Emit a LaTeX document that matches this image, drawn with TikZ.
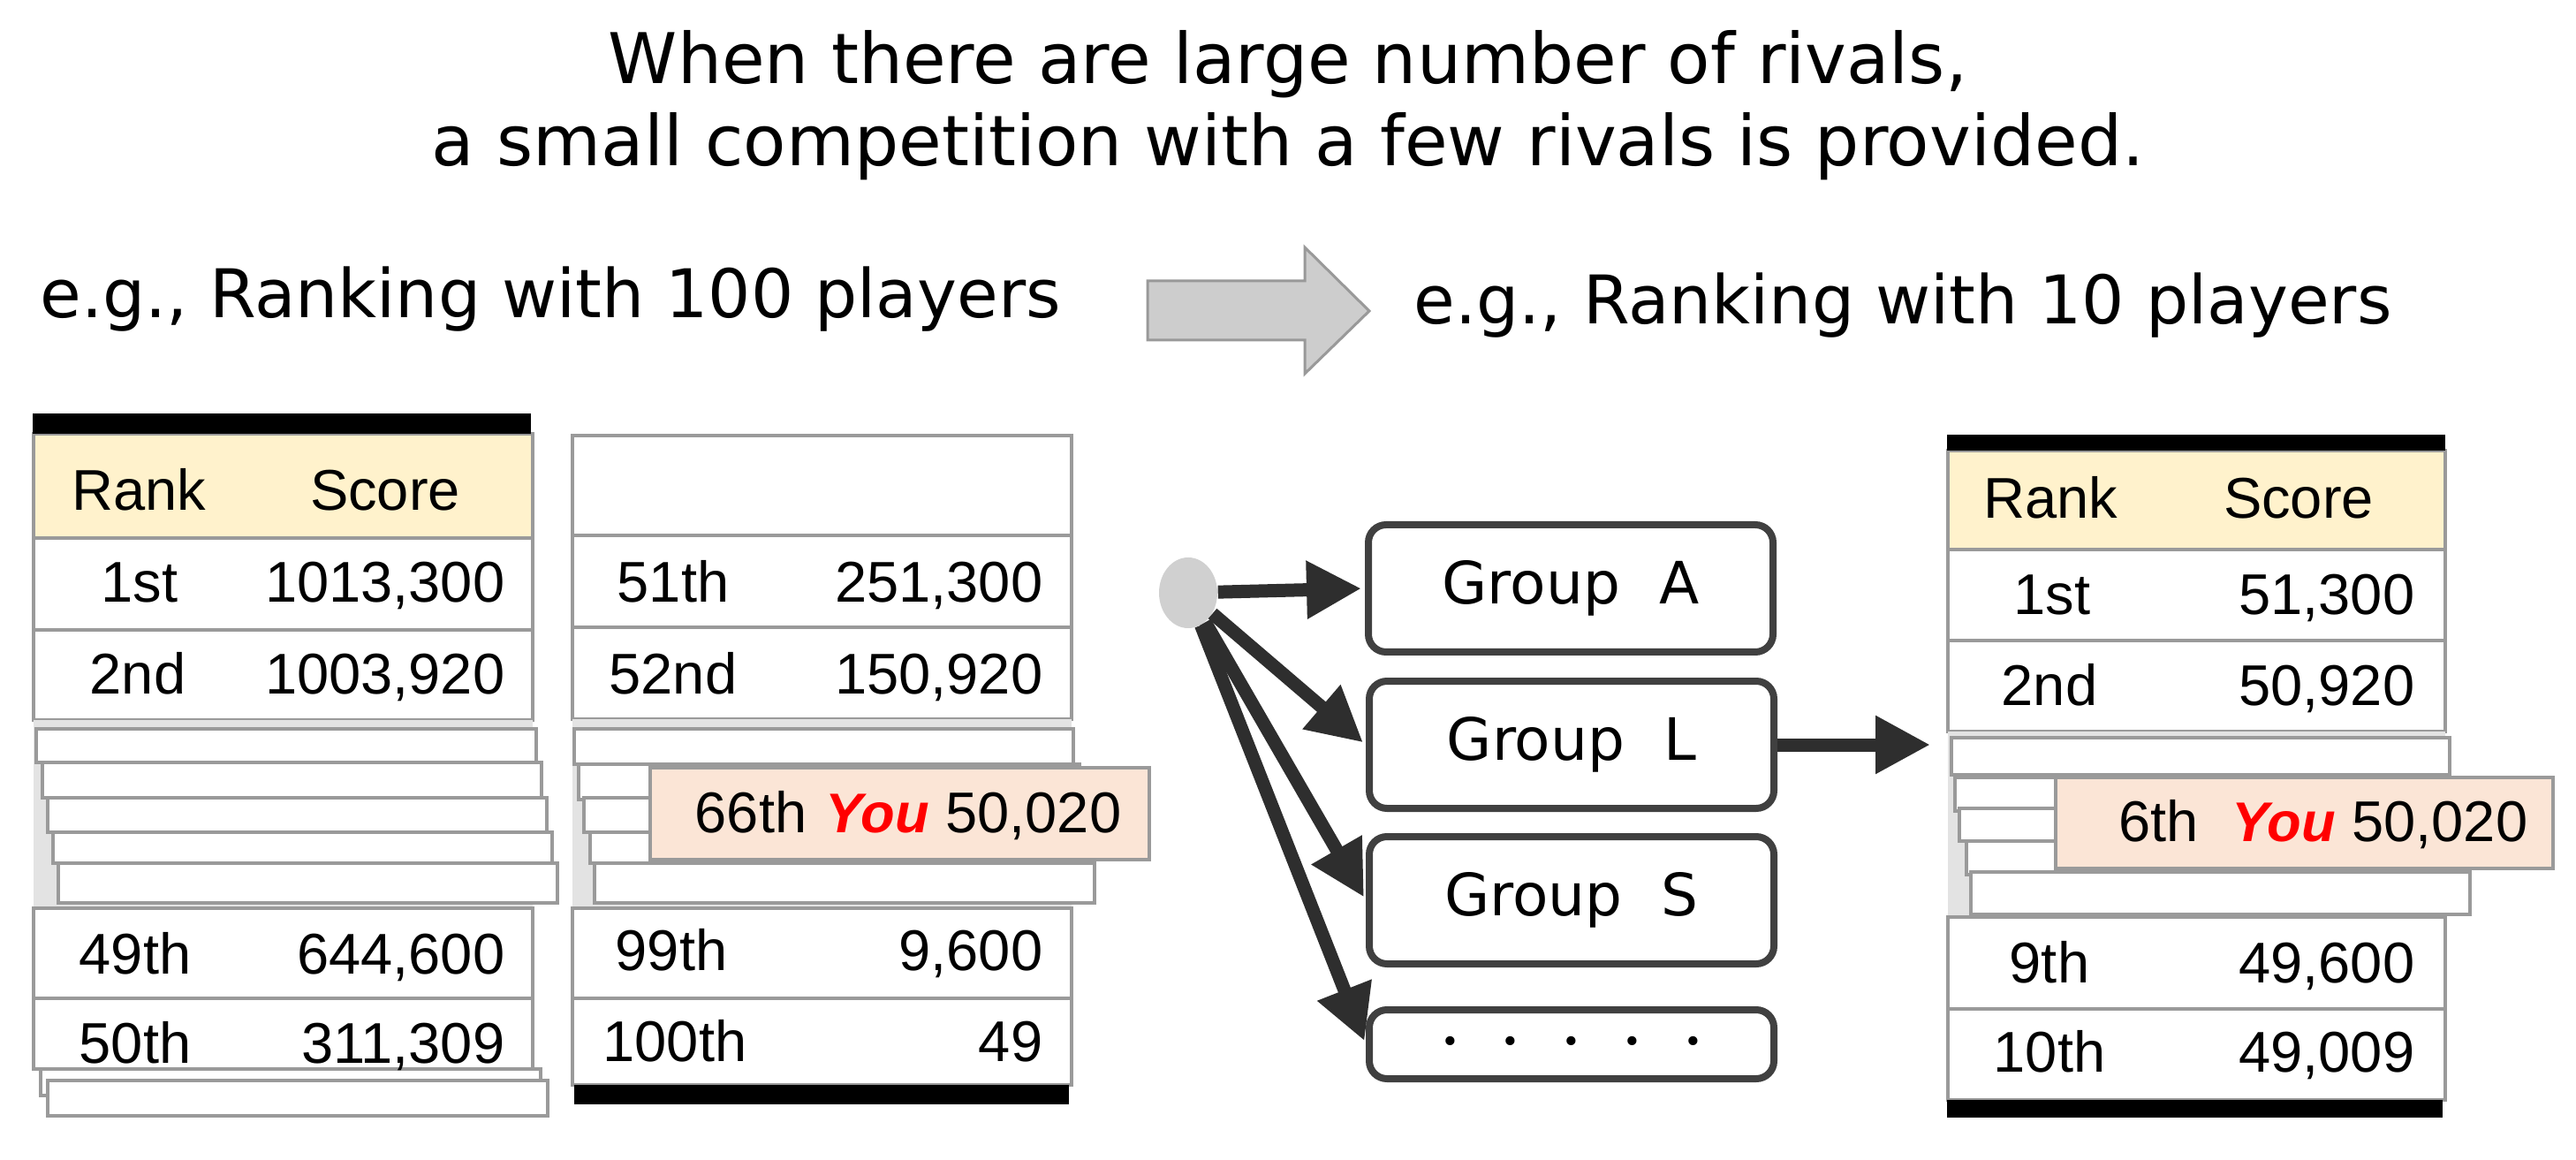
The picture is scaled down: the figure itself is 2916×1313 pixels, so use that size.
\documentclass[tikz,border=0pt]{standalone}
\usepackage{fontspec}
\setmainfont{DejaVu Sans}
\newfontfamily\tabfam{Liberation Sans}
\usetikzlibrary{arrows.meta,shapes.geometric}
\definecolor{tline}{HTML}{9A9A9A}
\definecolor{shade}{HTML}{E3E3E3}
\definecolor{cream}{HTML}{FFF2CC}
\definecolor{peach}{HTML}{FBE5D6}
\definecolor{darkarr}{HTML}{2E2E2E}
\definecolor{boxline}{HTML}{404040}
\definecolor{blockfill}{HTML}{CDCDCD}
\definecolor{blockline}{HTML}{999999}
\definecolor{dotfill}{HTML}{D0D0D0}
\definecolor{youred}{HTML}{FF0000}
\begin{document}
\begin{tikzpicture}[x=0.1mm,y=-0.1mm,
  cellbox/.style={draw=tline, fill=white, line width=0.35mm},
  headbox/.style={draw=tline, fill=cream, line width=0.35mm},
  youbox/.style={draw=tline, fill=peach, line width=0.35mm},
  shadebox/.style={fill=shade},
  blackbar/.style={fill=black},
  tabtxt/.style={font=\tabfam\fontsize{18.5}{22}\selectfont, inner sep=0pt, anchor=base},
  scoretxt/.style={tabtxt, anchor=base east},
  lefttxt/.style={tabtxt, anchor=base west},
  youtxt/.style={font=\tabfam\bfseries\itshape\fontsize{18}{22}\selectfont, text=youred, inner sep=0pt, anchor=base west},
  bigtxt/.style={font=\fontsize{22.5}{27}\selectfont, inner sep=0pt, anchor=base},
  egtxt/.style={font=\fontsize{21.6}{26}\selectfont, inner sep=0pt, anchor=base west},
  grp/.style={draw=boxline, line width=0.8mm, rounded corners=2mm, fill=white,
              minimum width=45.8mm, minimum height=14.4mm, inner sep=0pt,
              font=\fontsize{18.8}{22}\selectfont},
  hubstyle/.style={ellipse, fill=dotfill, minimum width=6.6mm, minimum height=8mm, inner sep=0pt},
  conn/.style={draw=darkarr, line width=1.5mm, -{Triangle[length=6.2mm,width=6.2mm]}, shorten >=0.4mm}
]
\fill[white] (0,0) rectangle (2916,1313);
\useasboundingbox (0,0) rectangle (2916,1313);

% ---------- titles ----------
\node[bigtxt] (title1) at (1458,95) {When there are large number of rivals,};
\node[bigtxt] (title2) at (1458,188) {a small competition with a few rivals is provided.};
\node[egtxt] (eg1) at (45,360) {e.g., Ranking with 100 players};
\node[egtxt] (eg2) at (1600,367) {e.g., Ranking with 10 players};

% block arrow
\draw[fill=blockfill, draw=blockline, line width=0.3mm, line join=miter]
  (1299,318) -- (1477,318) -- (1477,280) -- (1550,352) -- (1477,423) -- (1477,385) -- (1299,385) -- cycle;

% ---------- table 1 (1st..50th) ----------
\draw[headbox] (38,491) rectangle (603,609);
\draw[cellbox] (38,609) rectangle (603,713);
\draw[cellbox] (38,713) rectangle (603,815);
\fill[shadebox] (38,815) rectangle (603,1030);
\draw[cellbox] (41,825) rectangle (607,863);
\draw[cellbox] (48,863) rectangle (613,903);
\draw[cellbox] (54,903) rectangle (619,942);
\draw[cellbox] (60,942) rectangle (625,977);
\draw[cellbox] (66,977) rectangle (631,1022);
\draw[cellbox] (38,1028) rectangle (603,1130);
\draw[cellbox] (38,1130) rectangle (603,1210);
\draw[cellbox] (46,1210) rectangle (612,1240);
\draw[cellbox] (54,1223) rectangle (620,1263);
\fill[blackbar] (37,468) rectangle (601,491);

\node[tabtxt] (t1rank) at (157,578) {Rank};
\node[tabtxt] (t1score) at (436,578) {Score};
\node[tabtxt] (t1a) at (158,682) {1st};
\node[scoretxt] (t1as) at (572,682) {1013,300};
\node[tabtxt] (t1b) at (156,785) {2nd};
\node[scoretxt] (t1bs) at (572,785) {1003,920};
\node[tabtxt] (t1c) at (153,1102) {49th};
\node[scoretxt] (t1cs) at (572,1102) {644,600};
\node[tabtxt] (t1d) at (153,1203) {50th};
\node[scoretxt] (t1ds) at (572,1203) {311,309};

% ---------- table 2 (51st..100th) ----------
\draw[cellbox] (648,493) rectangle (1213,606);
\draw[cellbox] (648,606) rectangle (1213,710);
\draw[cellbox] (648,710) rectangle (1213,814);
\fill[shadebox] (648,814) rectangle (1213,1028);
\draw[cellbox] (650,825) rectangle (1215,865);
\draw[cellbox] (655,865) rectangle (1222,905);
\draw[cellbox] (661,903) rectangle (1228,942);
\draw[cellbox] (668,942) rectangle (1234,977);
\draw[cellbox] (673,977) rectangle (1239,1022);
\draw[youbox] (736,869) rectangle (1301,973);
\draw[cellbox] (648,1028) rectangle (1213,1130);
\draw[cellbox] (648,1130) rectangle (1213,1228);
\fill[blackbar] (650,1228) rectangle (1210,1250);

\node[tabtxt] (t2a) at (762,682) {51th};
\node[scoretxt] (t2as) at (1181,682) {251,300};
\node[tabtxt] (t2b) at (762,785) {52nd};
\node[scoretxt] (t2bs) at (1181,785) {150,920};
\node[lefttxt] (t2y) at (786,942) {66th};
\node[youtxt] (t2you) at (934,942) {You};
\node[scoretxt] (t2ys) at (1270,942) {50,020};
\node[tabtxt] (t2c) at (760,1098) {99th};
\node[scoretxt] (t2cs) at (1181,1098) {9,600};
\node[tabtxt] (t2d) at (764,1201) {100th};
\node[scoretxt] (t2ds) at (1181,1201) {49};

% ---------- groups ----------
\node[hubstyle] (hub) at (1345,671) {};
\node[grp] (gA) at (1778,666) {Group\hspace{0.35em} A};
\node[grp] (gL) at (1779,843) {Group\hspace{0.35em} L};
\node[grp] (gS) at (1779,1019) {Group\hspace{0.35em} S};
\node[grp, minimum height=7.8mm] (gD) at (1779,1182)
  {\fontsize{10}{12}\selectfont •\hspace{4.8mm}•\hspace{4.8mm}•\hspace{4.8mm}•\hspace{4.8mm}•};

\draw[conn] (hub) -- (gA.west);
\draw[conn] (hub) -- (gL.west);
\draw[conn] (hub) -- (gS.west);
\draw[conn] (hub) -- (gD.west);

\coordinate (tgt) at (2185,843);
\draw[conn, shorten >=0mm] (gL.east) -- (tgt);

% ---------- table 3 (10 players) ----------
\draw[headbox] (2205,510) rectangle (2768,622);
\draw[cellbox] (2205,622) rectangle (2768,725);
\draw[cellbox] (2205,725) rectangle (2768,828);
\fill[shadebox] (2205,828) rectangle (2768,1038);
\draw[cellbox] (2209,835) rectangle (2773,877);
\draw[cellbox] (2213,880) rectangle (2780,918);
\draw[cellbox] (2218,915) rectangle (2785,952);
\draw[cellbox] (2226,952) rectangle (2790,990);
\draw[cellbox] (2231,987) rectangle (2796,1035);
\draw[youbox] (2327,880) rectangle (2890,983);
\draw[cellbox] (2205,1038) rectangle (2768,1142);
\draw[cellbox] (2205,1142) rectangle (2768,1245);
\fill[blackbar] (2204,492) rectangle (2768,510);
\fill[blackbar] (2204,1245) rectangle (2765,1265);

\node[tabtxt] (t3rank) at (2321,587) {Rank};
\node[tabtxt] (t3score) at (2602,587) {Score};
\node[tabtxt] (t3a) at (2323,695) {1st};
\node[scoretxt] (t3as) at (2734,695) {51,300};
\node[tabtxt] (t3b) at (2320,798) {2nd};
\node[scoretxt] (t3bs) at (2734,798) {50,920};
\node[lefttxt] (t3y) at (2398,952) {6th};
\node[youtxt] (t3you) at (2526,952) {You};
\node[scoretxt] (t3ys) at (2862,952) {50,020};
\node[tabtxt] (t3c) at (2320,1112) {9th};
\node[scoretxt] (t3cs) at (2734,1112) {49,600};
\node[tabtxt] (t3d) at (2320,1213) {10th};
\node[scoretxt] (t3ds) at (2734,1213) {49,009};
\end{tikzpicture}
\end{document}
